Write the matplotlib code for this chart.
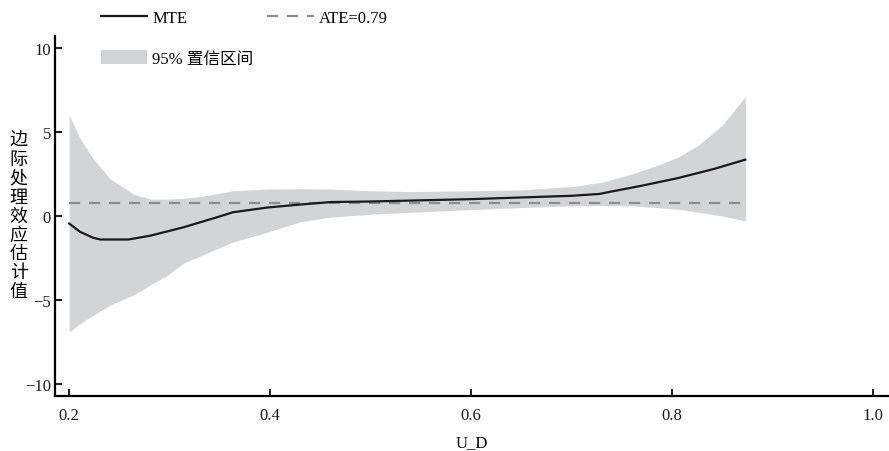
import matplotlib
matplotlib.use("Agg")
import matplotlib.pyplot as plt
from matplotlib.patches import Patch
from matplotlib.lines import Line2D

plt.rcParams["font.family"] = ["Liberation Serif", "Noto Sans CJK SC"]
plt.rcParams["axes.unicode_minus"] = True

# MTE curve
mte_x = [0.2, 0.211, 0.224, 0.231, 0.259, 0.281, 0.314, 0.347, 0.363, 0.397,
         0.43, 0.461, 0.5, 0.6, 0.7, 0.728, 0.736, 0.77, 0.805, 0.842, 0.873]
mte_y = [-0.45, -0.95, -1.3, -1.4, -1.4, -1.17, -0.67, -0.08, 0.22, 0.5,
         0.68, 0.83, 0.86, 1.0, 1.2, 1.31, 1.41, 1.8, 2.24, 2.8, 3.35]

# 95% confidence band
band_x = [0.2, 0.211, 0.224, 0.241, 0.264, 0.281, 0.297, 0.314, 0.33, 0.363,
          0.397, 0.43, 0.46, 0.5, 0.54, 0.6, 0.65, 0.7, 0.73, 0.76,
          0.785, 0.806, 0.826, 0.85, 0.873]
band_upper = [6.0, 4.6, 3.4, 2.2, 1.3, 1.0, 1.0, 1.05, 1.15, 1.5,
              1.6, 1.62, 1.6, 1.5, 1.45, 1.5, 1.55, 1.75, 2.0, 2.5,
              3.0, 3.5, 4.2, 5.4, 7.1]
band_lower = [-6.9, -6.4, -5.9, -5.3, -4.7, -4.1, -3.55, -2.8, -2.4, -1.55,
              -0.97, -0.35, -0.07, 0.1, 0.22, 0.38, 0.5, 0.6, 0.62, 0.6,
              0.5, 0.4, 0.22, 0.0, -0.3]

ATE = 0.79
x_ticks = [0.2, 0.4, 0.6, 0.8, 1.0]
y_ticks = [-10, -5, 0, 5, 10]

fig = plt.figure(figsize=(8.89, 4.52), dpi=100)
ax = fig.add_axes([0.062, 0.122, 0.938, 0.796])

ax.fill_between(band_x, band_lower, band_upper, color="#d3d4d6", linewidth=0)
ax.plot([band_x[0], band_x[-1]], [ATE, ATE], color="#8c8c8c", linewidth=1.6,
        dashes=(5, 4))
ax.plot(mte_x, mte_y, color="#1a1a1a", linewidth=1.6)

ax.set_xlim(0.186, 1.016)
ax.set_ylim(-10.7, 10.7)
ax.set_xticks(x_ticks)
ax.set_xticklabels([f"{v:.1f}" for v in x_ticks])
ax.set_yticks(y_ticks)
for side in ["top", "right"]:
    ax.spines[side].set_visible(False)
for side in ["left", "bottom"]:
    ax.spines[side].set_linewidth(1.6)
ax.tick_params(axis="both", direction="in", length=5, width=1.4,
               labelsize=12, colors="#1a1a1a")
ax.tick_params(axis="x", pad=8)
ax.tick_params(axis="y", pad=3)

ax.set_xlabel("U_D", fontsize=12, labelpad=8)
fig.text(0.021, 0.52, "\n".join("边际处理效应估计值"), fontsize=13,
         ha="center", va="center", linespacing=1.15)

handles = [Line2D([], [], color="#1a1a1a", linewidth=1.6),
           Patch(facecolor="#d3d4d6", edgecolor="none"),
           Line2D([], [], color="#8c8c8c", linewidth=1.6, dashes=(5, 4))]
labels = ["MTE", "95% 置信区间", "ATE=0.79"]
fig.legend(handles, labels, loc="upper left", ncol=2, frameon=False,
           bbox_to_anchor=(0.104, 0.995), fontsize=12, handlelength=2.8,
           handleheight=0.9, handletextpad=0.3, labelspacing=1.45,
           columnspacing=0.8, borderpad=0)

plt.savefig("out.png", dpi=100)
plt.close()
